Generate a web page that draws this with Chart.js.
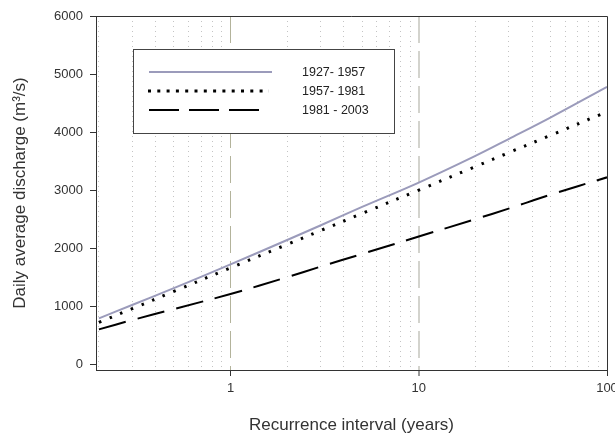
<!DOCTYPE html>
<html>
<head>
<meta charset="utf-8">
<script src="https://cdn.jsdelivr.net/npm/chart.js@4"></script>
<style>
  html, body { margin: 0; padding: 0; background: #fff; }
  #wrap { width: 615px; height: 439px; }
</style>
</head>
<body>
<div id="wrap"><canvas id="c" width="615" height="439"></canvas></div>
<script>
// ---- data ----
const recurrence = [0.2, 0.3, 0.5, 1, 2, 3, 5, 10, 20, 30, 50, 100];
const labels = ['1927- 1957', '1957- 1981', '1981 - 2003'];
const s1927 = [790, 1020, 1310, 1720, 2140, 2390, 2710, 3130, 3590, 3880, 4250, 4780];
const s1957 = [720, 956, 1254, 1660, 2063, 2300, 2597, 3000, 3406, 3644, 3943, 4350];
const s1981 = [600, 760, 950, 1210, 1500, 1680, 1900, 2200, 2500, 2680, 2920, 3220];
const xTicks = [0.2,0.3,0.4,0.5,0.6,0.7,0.8,0.9,1,2,3,4,5,6,7,8,9,10,20,30,40,50,60,70,80,90,100];
const xMajor = [1, 10, 100];
const yTicks = [0, 1000, 2000, 3000, 4000, 5000, 6000];

const pts = ys => recurrence.map((x, i) => ({x: x, y: ys[i]}));
const FONT = '"Liberation Sans", Arial, sans-serif';

const legendStyles = [
  {dash: [], width: 2, x0: 149, x1: 272},
  {dash: [3, 6.3], width: 3, x0: 148, x1: 269},
  {dash: [30, 10], width: 2, x0: 149, x1: 261}
];

const insideLegend = {
  id: 'insideLegend',
  afterDraw(chart) {
    const ctx = chart.ctx;
    ctx.save();
    const a = chart.chartArea;
    ctx.strokeStyle = '#333';
    ctx.lineWidth = 1;
    ctx.beginPath();
    ctx.moveTo(a.left, a.top + 0.5);
    ctx.lineTo(a.right + 0.5, a.top + 0.5);
    ctx.lineTo(a.right + 0.5, a.bottom);
    ctx.stroke();
    ctx.fillStyle = '#fff';
    ctx.fillRect(133.5, 49.5, 261, 84);
    ctx.strokeStyle = '#444';
    ctx.strokeRect(133.5, 49.5, 261, 84);
    const rows = [72, 91, 110];
    chart.data.datasets.forEach((ds, i) => {
      const st = legendStyles[i];
      ctx.beginPath();
      ctx.setLineDash(st.dash);
      ctx.lineWidth = st.width;
      ctx.strokeStyle = ds.borderColor;
      ctx.moveTo(st.x0, rows[i]);
      ctx.lineTo(st.x1, rows[i]);
      ctx.stroke();
      ctx.setLineDash([]);
      ctx.fillStyle = '#222';
      ctx.font = '12.5px ' + FONT;
      ctx.textBaseline = 'middle';
      ctx.textAlign = 'left';
      ctx.fillText(ds.label, 302, rows[i] + 0.5);
    });
    ctx.restore();
  }
};

new Chart(document.getElementById('c'), {
  type: 'line',
  data: {
    datasets: [
      {label: labels[0], data: pts(s1927), borderColor: '#9b9bbb', borderWidth: 2, pointRadius: 0, tension: 0.35, fill: false},
      {label: labels[1], data: pts(s1957), borderColor: '#000', borderWidth: 3, borderDash: [2.5, 9], pointRadius: 0, tension: 0.35, fill: false},
      {label: labels[2], data: pts(s1981), borderColor: '#000', borderWidth: 2, borderDash: [28, 12], pointRadius: 0, tension: 0.35, fill: false}
    ]
  },
  options: {
    responsive: false,
    animation: false,
    devicePixelRatio: 1,
    layout: {padding: {top: 16, right: 8, left: 0, bottom: 0}},
    plugins: {legend: {display: false}, tooltip: {enabled: false}},
    scales: {
      x: {
        type: 'logarithmic',
        min: 0.193,
        max: 100,
        afterBuildTicks: s => { s.ticks = xTicks.map(v => ({value: v})); },
        afterFit: s => { s.height = 69; s.paddingLeft = 0; s.paddingRight = 0; },
        ticks: {
          autoSkip: false, maxRotation: 0, minRotation: 0, padding: 5,
          color: '#333', font: {family: FONT, size: 13},
          callback: v => xMajor.includes(v) ? String(v) : ''
        },
        grid: {
          drawTicks: true, tickLength: 6,
          color: c => {
            const v = c.tick ? c.tick.value : null;
            if (v === 100) return 'rgba(0,0,0,0)';
            if (v === 1) return '#b3b39b';
            if (v === 10) return '#d3d3cd';
            return '#c4c4c4';
          },
          lineWidth: c => (c.tick && c.tick.value === 10) ? 2 : 1,
          tickColor: c => (c.tick && xMajor.includes(c.tick.value)) ? '#333' : 'rgba(0,0,0,0)',
          tickBorderDash: [],
          tickWidth: 1
        },
        border: {
          display: true, color: '#333', width: 1,
          dash: c => {
            const v = c.tick ? c.tick.value : null;
            if (v === 1 || v === 10) return [27, 8];
            return [1, 4];
          }
        },
        title: {
          display: true, text: 'Recurrence interval (years)', color: '#333',
          font: {family: FONT, size: 17}, padding: {top: 0, bottom: 3}
        }
      },
      y: {
        type: 'linear',
        min: -100,
        max: 6000,
        afterBuildTicks: s => { s.ticks = yTicks.map(v => ({value: v})); },
        afterFit: s => { s.width = 96; },
        ticks: {padding: 7, color: '#333', font: {family: FONT, size: 13}, callback: v => String(v)},
        grid: {drawOnChartArea: false, drawTicks: true, tickLength: 6, tickColor: '#333'},
        border: {display: true, color: '#333', width: 1},
        title: {
          display: true, text: 'Daily average discharge (m\u00B3/s)', color: '#333',
          font: {family: FONT, size: 17}, padding: {top: 10, bottom: 0}
        }
      }
    }
  },
  plugins: [insideLegend]
});
</script>
</body>
</html>
